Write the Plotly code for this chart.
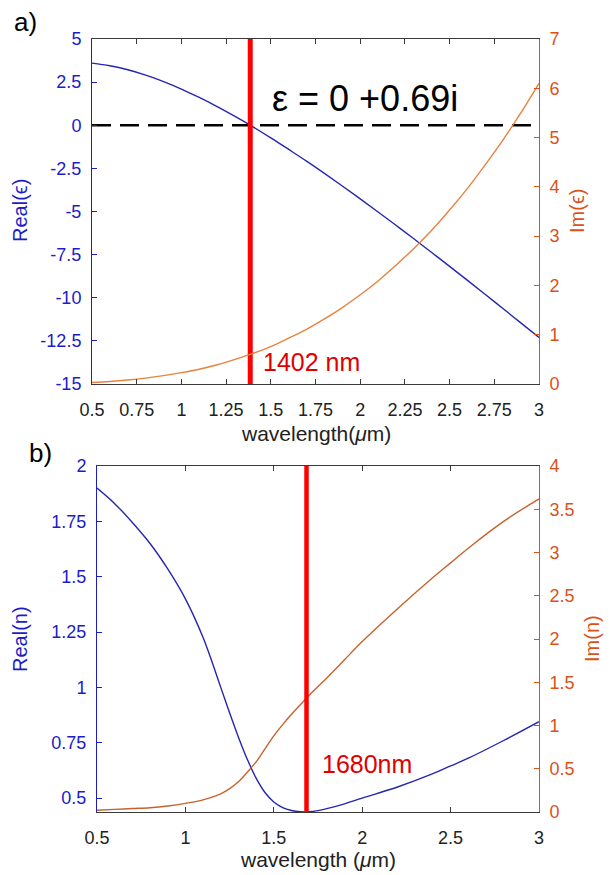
import plotly.graph_objects as go

# ---------------- data ----------------
# panel a) permittivity vs wavelength (um)
wl_a = [0.5, 0.6, 0.7, 0.8, 0.9, 1.0, 1.1, 1.2, 1.3, 1.4, 1.5, 1.6, 1.7, 1.8, 1.9,
        2.0, 2.1, 2.2, 2.3, 2.4, 2.5, 2.6, 2.7, 2.8, 2.9, 3.0]
re_eps = [3.60, 3.45, 3.22, 2.91, 2.53, 2.10, 1.61, 1.08, 0.51, -0.09, -0.73, -1.40,
          -2.08, -2.79, -3.52, -4.27, -5.03, -5.80, -6.58, -7.38, -8.18, -8.99,
          -9.81, -10.64, -11.47, -12.30]
im_eps = [0.03, 0.05, 0.08, 0.12, 0.17, 0.23, 0.30, 0.39, 0.50, 0.62, 0.76, 0.93,
          1.11, 1.32, 1.55, 1.81, 2.09, 2.41, 2.75, 3.12, 3.53, 3.97, 4.45, 4.96,
          5.51, 6.10]
enz_wl_a = 1.385          # red marker line, panel a
eps_zero = 0.0            # dashed reference line level

# panel b) refractive index vs wavelength (um)
wl_b = [0.5, 0.6, 0.7, 0.8, 0.9, 1.0, 1.1, 1.2, 1.25, 1.3, 1.35, 1.4, 1.45, 1.5,
        1.55, 1.6, 1.65, 1.7, 1.75, 1.8, 1.9, 2.0, 2.2, 2.4, 2.5, 2.6, 2.8, 3.0]
re_n = [1.90, 1.83, 1.745, 1.65, 1.535, 1.40, 1.225, 1.00, 0.885, 0.775, 0.675, 0.59,
        0.525, 0.482, 0.457, 0.444, 0.438, 0.438, 0.443, 0.452, 0.474, 0.50, 0.55,
        0.61, 0.645, 0.68, 0.76, 0.845]
im_n = [0.02, 0.03, 0.04, 0.05, 0.07, 0.10, 0.14, 0.21, 0.27, 0.35, 0.46, 0.58,
        0.73, 0.88, 1.01, 1.13, 1.24, 1.35, 1.45, 1.55, 1.76, 1.97, 2.35, 2.71,
        2.88, 3.05, 3.36, 3.62]
enz_wl_b = 1.685          # red marker line, panel b

# tick labels
xt_a = [0.5, 0.75, 1, 1.25, 1.5, 1.75, 2, 2.25, 2.5, 2.75, 3]
xt_a_lbl = ["0.5", "0.75", "1", "1.25", "1.5", "1.75", "2", "2.25", "2.5", "2.75", "3"]
yt_a = [-15, -12.5, -10, -7.5, -5, -2.5, 0, 2.5, 5]
yt_a_lbl = ["-15", "-12.5", "-10", "-7.5", "-5", "-2.5", "0", "2.5", "5"]
y2t_a = [0, 1, 2, 3, 4, 5, 6, 7]
xt_b = [0.5, 1, 1.5, 2, 2.5, 3]
xt_b_lbl = ["0.5", "1", "1.5", "2", "2.5", "3"]
yt_b = [0.5, 0.75, 1, 1.25, 1.5, 1.75, 2]
yt_b_lbl = ["0.5", "0.75", "1", "1.25", "1.5", "1.75", "2"]
y2t_b = [0, 0.5, 1, 1.5, 2, 2.5, 3, 3.5, 4]
y2t_b_lbl = ["0", "0.5", "1", "1.5", "2", "2.5", "3", "3.5", "4"]

# ---------------- style ----------------
BLUE = "#1c1cc8"
BLUE_LINE = "#2525b0"
ORANGE = "#d95319"
ORANGE_LINE_A = "#e8823e"
ORANGE_LINE_B = "#c8622c"
RED = "#ff0000"
FONT = "Liberation Sans, Arial, sans-serif"
W, H = 610, 875

fig = go.Figure()

# panel a
fig.add_trace(go.Scatter(x=wl_a, y=re_eps, mode="lines", line=dict(color=BLUE_LINE, width=1.4, shape="spline"),
                         xaxis="x", yaxis="y", name="Real(ε)"))
fig.add_trace(go.Scatter(x=wl_a, y=im_eps, mode="lines", line=dict(color=ORANGE_LINE_A, width=1.4, shape="spline"),
                         xaxis="x", yaxis="y2", name="Im(ε)"))
fig.add_trace(go.Scatter(x=[wl_a[0], wl_a[-1]], y=[eps_zero, eps_zero], mode="lines",
                         line=dict(color="black", width=2.6, dash="19px,9px"),
                         xaxis="x", yaxis="y", name="zero"))
fig.add_trace(go.Scatter(x=[enz_wl_a, enz_wl_a], y=[yt_a[0], yt_a[-1]], mode="lines",
                         line=dict(color=RED, width=5), xaxis="x", yaxis="y", name="ENZ a"))

# panel b
fig.add_trace(go.Scatter(x=wl_b, y=re_n, mode="lines", line=dict(color=BLUE_LINE, width=1.4, shape="spline"),
                         xaxis="x2", yaxis="y3", name="Real(n)"))
fig.add_trace(go.Scatter(x=wl_b, y=im_n, mode="lines", line=dict(color=ORANGE_LINE_B, width=1.4, shape="spline"),
                         xaxis="x2", yaxis="y4", name="Im(n)"))
fig.add_trace(go.Scatter(x=[enz_wl_b, enz_wl_b], y=[y2t_b[0], y2t_b[-1]], mode="lines",
                         line=dict(color=RED, width=4.5), xaxis="x2", yaxis="y4", name="ENZ b"))

# domains from pixel geometry
def px_x(p):
    return p / W

def px_y(p):
    return 1 - p / H

common_x = dict(showline=True, linecolor="#3a3a3a", linewidth=1, ticks="inside", ticklen=5,
                tickcolor="#3a3a3a", mirror="ticks", showgrid=False, zeroline=False, automargin=False,
                tickfont=dict(family=FONT, size=18, color="#222222"), ticklabelstandoff=9)

def y_axis(color, **kw):
    d = dict(showline=True, linecolor=color, ticks="inside", ticklen=5, tickcolor=color,
             showgrid=False, zeroline=False, automargin=False,
             tickfont=dict(family=FONT, size=18, color=color), ticklabelstandoff=6)
    d.update(kw)
    return d

fig.update_layout(
    width=W, height=H,
    paper_bgcolor="white", plot_bgcolor="white",
    margin=dict(l=0, r=0, t=0, b=0),
    showlegend=False,
    xaxis=dict(common_x, domain=[px_x(92), px_x(539)], anchor="y", range=[0.5, 3],
               tickvals=xt_a, ticktext=xt_a_lbl),
    yaxis=y_axis(BLUE, domain=[px_y(384), px_y(39)], anchor="x", range=[-15, 5],
                 tickvals=yt_a, ticktext=yt_a_lbl),
    yaxis2=y_axis(ORANGE, overlaying="y", side="right", anchor="x", range=[0, 7], tickvals=y2t_a),
    xaxis2=dict(common_x, domain=[px_x(97), px_x(539)], anchor="y3", range=[0.5, 3],
                tickvals=xt_b, ticktext=xt_b_lbl),
    yaxis3=y_axis(BLUE, domain=[px_y(812), px_y(466)], anchor="x2", range=[0.437, 2],
                  tickvals=yt_b, ticktext=yt_b_lbl),
    yaxis4=y_axis(ORANGE, overlaying="y3", side="right", anchor="x2", range=[0, 4],
                  tickvals=y2t_b, ticktext=y2t_b_lbl),
)


def label(text, x, y, size, color, angle=0, xanchor="center"):
    return dict(text=text, xref="paper", yref="paper", x=px_x(x), y=px_y(y), xanchor=xanchor,
                yanchor="middle", showarrow=False, textangle=angle,
                font=dict(family=FONT, size=size, color=color))


annotations = [
    # axis titles
    label("wavelength(<i>μ</i>m)", 316, 433, 21, "#222222"),
    label("wavelength (<i>μ</i>m)", 318, 859, 21, "#222222"),
    label("Real(ϵ)", 20, 211, 20, BLUE, angle=-90),
    label("Im(ϵ)", 577, 211, 20, ORANGE, angle=-90),
    label("Real(n)", 20, 639, 20, BLUE, angle=-90),
    label("Im(n)", 592, 639, 20, ORANGE, angle=-90),
    # panel letters and callouts
    label("a)", 12, 22, 26, "black", xanchor="left"),
    label("b)", 27, 453, 26, "black", xanchor="left"),
    label("ε = 0 +0.69i", 270, 99, 36, "black", xanchor="left"),
    label("1402 nm", 261, 362, 25, "#e00000", xanchor="left"),
    label("1680nm", 320, 764, 25, "#e00000", xanchor="left"),
]
fig.update_layout(annotations=annotations)

# the page body has a default 8px margin; remove it so the figure fills the window exactly
fig.write_html("out.html", config={"displayModeBar": False},
               post_script="document.body.style.margin='0';")
